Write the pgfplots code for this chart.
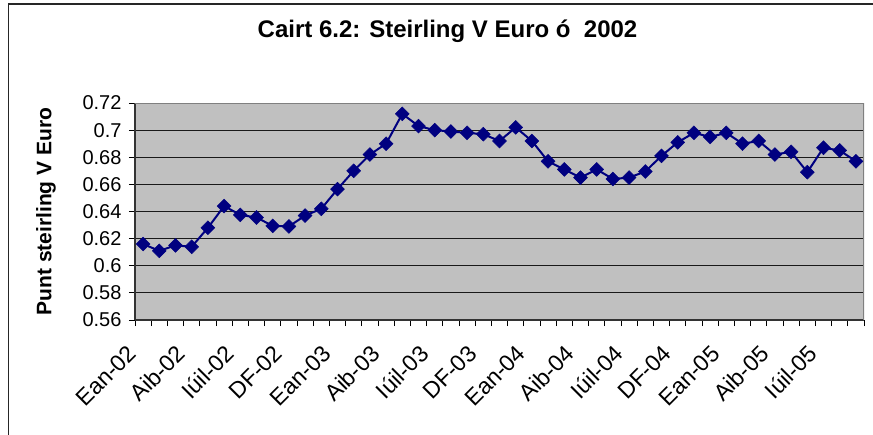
\documentclass[border=0pt]{standalone}
\usepackage{fontspec}
\setmainfont{Liberation Sans}
\usepackage{pgfplots}
\pgfplotsset{compat=1.18}
\definecolor{plotgray}{HTML}{C0C0C0}
\definecolor{framegray}{HTML}{808080}
\definecolor{navyline}{HTML}{000080}
\begin{document}
\begin{tikzpicture}
\useasboundingbox (0pt,0pt) rectangle (873pt,-434pt);
\draw[line width=1.5pt, black!85] (8.5pt,-440pt) -- (8.5pt,-4pt) -- (880pt,-4pt);
\begin{axis}[
  at={(135pt,-320pt)}, anchor=south west,
  width=729pt, height=217pt, scale only axis,
  xmin=-0.5, xmax=44.5, ymin=0.56, ymax=0.72,
  axis background/.style={fill=plotgray},
  axis lines=left,
  axis line style={-, line width=1.4pt, black!80},
  tick align=outside,
  major tick length=6pt,
  minor tick length=6pt,
  tick style={line width=1pt, black},
  xtick={-0.5,2.5,...,41.5},
  minor xtick={0.5,1.5,3.5,4.5,6.5,7.5,9.5,10.5,12.5,13.5,15.5,16.5,18.5,19.5,21.5,22.5,24.5,25.5,27.5,28.5,30.5,31.5,33.5,34.5,36.5,37.5,39.5,40.5,42.5,43.5,44.5},
  xticklabels={Ean-02,Aib-02,Iúil-02,DF-02,Ean-03,Aib-03,Iúil-03,DF-03,Ean-04,Aib-04,Iúil-04,DF-04,Ean-05,Aib-05,Iúil-05},
  ytick={0.56,0.58,0.6,0.62,0.64,0.66,0.68,0.7,0.72},
  yticklabels={0.56,0.58,0.6,0.62,0.64,0.66,0.68,0.7,0.72},
  ymajorgrids,
  grid style={line width=1pt, black!90},
  xticklabel style={font=\fontsize{23}{25}\selectfont, rotate=45, anchor=north east, yshift=-3pt, xshift=-15pt},
  yticklabel style={font=\fontsize{20}{22}\selectfont, xshift=-4pt},
  ylabel={Punt steirling V Euro},
  every axis y label/.style={at={(axis description cs:-0.122,0.5)}, rotate=90, anchor=center, font=\bfseries\fontsize{21}{23}\selectfont},
  title={Cairt 6.2: Steirling V Euro ó\ \ 2002},
  title style={at={(axis description cs:0.4287,1.2765)}, anchor=base, font=\bfseries\fontsize{24}{26}\selectfont},
]
\draw[line width=2pt, framegray] (rel axis cs:0,1) -- (rel axis cs:1,1) -- (rel axis cs:1,0);
\addplot[color=navyline, line width=2pt, mark=square*, mark size=4.9pt,
  mark options={rotate=45, fill=navyline, draw=navyline, line width=0.5pt}]
  coordinates {
  (0,0.616) (1,0.611) (2,0.615) (3,0.614) (4,0.628) (5,0.644) (6,0.6375) (7,0.6356)
  (8,0.6294) (9,0.629) (10,0.637) (11,0.642) (12,0.6565) (13,0.670) (14,0.682)
  (15,0.690) (16,0.712) (17,0.703) (18,0.700) (19,0.699) (20,0.698) (21,0.697)
  (22,0.692) (23,0.702) (24,0.692) (25,0.677) (26,0.671) (27,0.665) (28,0.671)
  (29,0.664) (30,0.665) (31,0.6695) (32,0.681) (33,0.691) (34,0.698) (35,0.695)
  (36,0.698) (37,0.690) (38,0.692) (39,0.682) (40,0.684) (41,0.669) (42,0.687)
  (43,0.685) (44,0.677)
  };
\end{axis}
\end{tikzpicture}
\end{document}
